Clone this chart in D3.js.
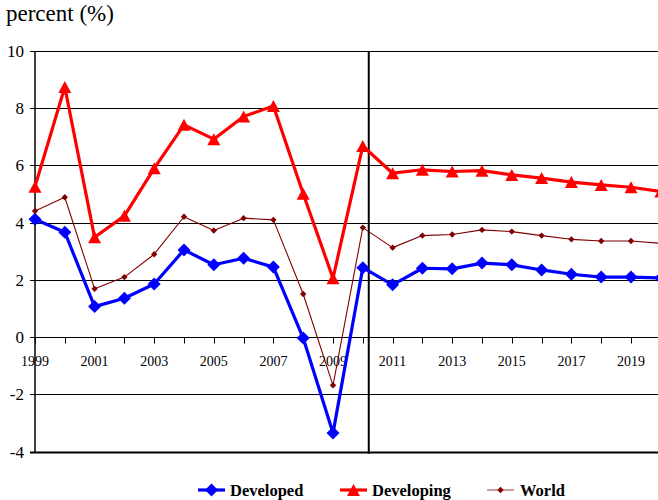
<!DOCTYPE html>
<html><head><meta charset="utf-8">
<script src="https://cdn.jsdelivr.net/npm/d3@7"></script>
<style>
html,body{margin:0;padding:0;background:#fff;}
</style>
</head><body>
<svg id="chart" width="658" height="500"></svg>
<script>
const years = [1999,2000,2001,2002,2003,2004,2005,2006,2007,2008,2009,2010,2011,2012,2013,2014,2015,2016,2017,2018,2019,2020];
const developed  = [4.12,3.67,1.07,1.36,1.86,3.05,2.53,2.76,2.45,-0.03,-3.35,2.43,1.83,2.41,2.39,2.59,2.53,2.35,2.20,2.10,2.10,2.07];
const developing = [5.26,8.74,3.49,4.24,5.90,7.42,6.92,7.71,8.08,5.01,2.06,6.68,5.73,5.85,5.79,5.82,5.67,5.56,5.42,5.32,5.24,5.09];
const world      = [4.41,4.89,1.69,2.10,2.90,4.21,3.73,4.16,4.10,1.51,-1.68,3.83,3.13,3.55,3.59,3.75,3.69,3.55,3.42,3.36,3.36,3.28];
const yTicks = [-4,-2,0,2,4,6,8,10];
const xLabelYears = [1999,2001,2003,2005,2007,2009,2011,2013,2015,2017,2019];
const dividerYear = 2010.2;
const seriesNames = ["Developed","Developing","World"];
const yTitle = "percent (%)";

const FONT = "'Liberation Serif', 'Times New Roman', Times, 'DejaVu Serif', serif";
const svg = d3.select("#chart").attr("font-family", FONT);
const W = 658;
const x = d3.scaleLinear().domain([1999, 2020]).range([35, 660.8]);
const y = d3.scaleLinear().domain([-4, 10]).range([451.7, 51]);

// title
svg.append("text").attr("x", 6).attr("y", 21).attr("font-family", FONT).attr("font-size", 23).attr("fill", "#000").text(yTitle);

// gridlines
svg.append("g").selectAll("line").data(yTicks).join("line")
  .attr("x1", 30).attr("x2", W)
  .attr("y1", d => Math.round(y(d)) + 0.5).attr("y2", d => Math.round(y(d)) + 0.5)
  .attr("stroke", "#000").attr("stroke-width", d => d === -4 ? 2 : 1);

// y axis labels
svg.append("g").selectAll("text").data(yTicks).join("text")
  .attr("x", 24).attr("y", d => y(d)).attr("dy", "0.35em")
  .attr("text-anchor", "end").attr("font-family", FONT).attr("font-size", 17).attr("fill", "#000")
  .text(d => d);

// y axis line
svg.append("line").attr("x1", 35).attr("x2", 35).attr("y1", y(10)).attr("y2", y(-4) + 1)
  .attr("stroke", "#000").attr("stroke-width", 1.5);

// x axis ticks at y=0
const y0 = Math.round(y(0)) + 0.5;
svg.append("g").selectAll("line").data(years).join("line")
  .attr("x1", d => Math.round(x(d)) + 0.5).attr("x2", d => Math.round(x(d)) + 0.5)
  .attr("y1", y0).attr("y2", y0 + 6).attr("stroke", "#000").attr("stroke-width", 1);
svg.append("g").selectAll("text").data(xLabelYears).join("text")
  .attr("x", d => x(d)).attr("y", y0 + 28).attr("text-anchor", "middle")
  .attr("font-family", FONT).attr("font-size", 14).attr("fill", "#000").text(d => d);

// divider
svg.append("line").attr("x1", x(dividerYear)).attr("x2", x(dividerYear))
  .attr("y1", y(10)).attr("y2", y(-4) + 2).attr("stroke", "#000").attr("stroke-width", 2);

const line = d3.line().x(d => x(d[0])).y(d => y(d[1]));
const diamond = s => `M0,${-s}L${s},0L0,${s}L${-s},0Z`;
const triangle = (w, h) => `M0,${-h/2}L${w/2},${h/2}L${-w/2},${h/2}Z`;

const series = [
  {name: seriesNames[0], vals: developed, color: "#0000ff", width: 3.2, marker: diamond(6.5)},
  {name: seriesNames[1], vals: developing, color: "#ff0000", width: 3.2, marker: triangle(13, 12)},
  {name: seriesNames[2], vals: world, color: "#800000", width: 1.1, marker: diamond(3.2)}
];

const plot = svg.append("g");
series.forEach(s => {
  const pts = years.map((yr, i) => [yr, s.vals[i]]);
  plot.append("path").datum(pts).attr("d", line).attr("fill", "none")
    .attr("stroke", s.color).attr("stroke-width", s.width).attr("stroke-linejoin", "round");
  plot.append("g").selectAll("path").data(pts).join("path")
    .attr("transform", d => `translate(${x(d[0])},${y(d[1])})`)
    .attr("d", s.marker).attr("fill", s.color);
});

// legend
const legendItems = [
  {s: series[0], x1: 198, x2: 225, tx: 230},
  {s: series[1], x1: 340, x2: 367, tx: 372},
  {s: series[2], x1: 487, x2: 514, tx: 520}
];
const ly = 490;
legendItems.forEach(it => {
  svg.append("line").attr("x1", it.x1).attr("x2", it.x2).attr("y1", ly).attr("y2", ly)
    .attr("stroke", it.s.color).attr("stroke-width", it.s.width).attr("opacity", it.s === series[2] ? 0.7 : 1);
  svg.append("path").attr("transform", `translate(${(it.x1 + it.x2) / 2},${ly})`)
    .attr("d", it.s.marker).attr("fill", it.s.color);
  svg.append("text").attr("x", it.tx).attr("y", ly).attr("dy", "0.35em")
    .attr("font-family", FONT).attr("font-size", 16.5).attr("font-weight", "bold").attr("fill", "#000").text(it.s.name);
});
</script>
</body></html>
